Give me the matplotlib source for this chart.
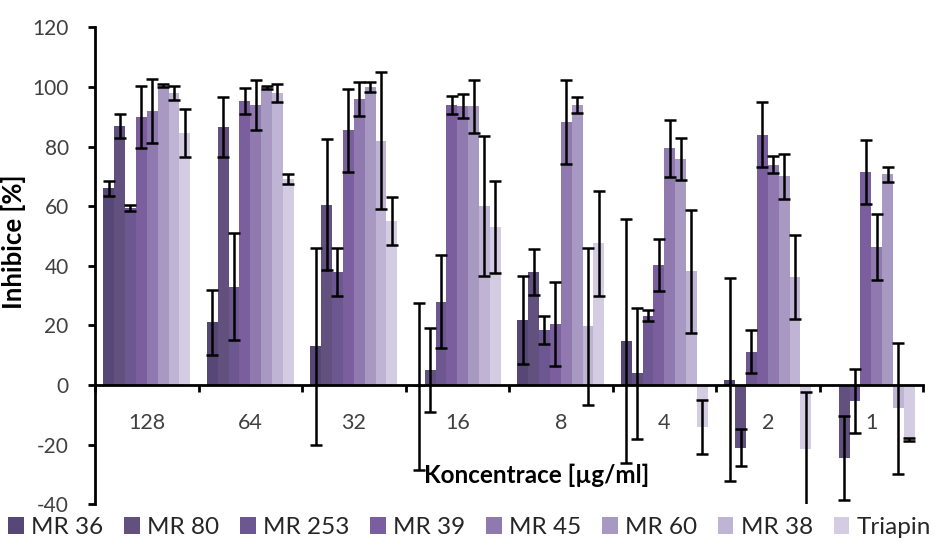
import matplotlib
matplotlib.use("Agg")
import matplotlib.pyplot as plt
import numpy as np

plt.rcParams["font.family"] = ["Lato", "DejaVu Sans"]
plt.rcParams["axes.unicode_minus"] = False

# koncentrace [ug/ml]
groups = ["128", "64", "32", "16", "8", "4", "2", "1"]
series = ["MR 36", "MR 80", "MR 253", "MR 39", "MR 45", "MR 60", "MR 38", "Triapin"]

mr36 = [66, 21, 13, -0.5, 21.8, 14.8, 1.8, np.nan]
mr36_err = [2.5, 11, 33, 28, 14.8, 41, 34, np.nan]
mr80 = [87, 86.5, 60.5, 5, 38, 4, -21, -24.5]
mr80_err = [4, 10, 22, 14, 7.7, 22, 6.2, 14]
mr253 = [59.5, 33, 38, 28, 18.5, 23.3, 11.2, -5.3]
mr253_err = [1, 18, 8, 15.5, 4.6, 1.8, 7.3, 10.7]
mr39 = [90, 95.3, 85.5, 94, 20.5, 40.3, 84, 71.6]
mr39_err = [10.5, 4.5, 14, 3, 14, 8.7, 11, 10.7]
mr45 = [92, 94, 96, 93.5, 88.3, 79.4, 74, 46.3]
mr45_err = [10.7, 8.4, 5.6, 4, 14, 9.5, 2.7, 11]
mr60 = [100.5, 100, 100, 93.5, 94, 75.8, 70, 70.7]
mr60_err = [0.5, 0.5, 1.8, 9, 2.8, 7, 7.5, 2.6]
mr38 = [98, 98, 82, 60, 19.7, 38.2, 36.2, -7.8]
mr38_err = [2.5, 3, 23, 23.5, 26.3, 20.6, 14, 22]
triapin = [84.5, 69, 55, 53, 47.5, -14, -21.5, -18.4]
triapin_err = [8, 1.7, 8, 15.5, 17.7, 9, 19, 0.5]

values = [mr36, mr80, mr253, mr39, mr45, mr60, mr38, triapin]
errors = [mr36_err, mr80_err, mr253_err, mr39_err, mr45_err, mr60_err, mr38_err, triapin_err]
colors = ["#574777", "#62507f", "#6c5791", "#7a5e9e", "#8f79ae", "#a899c2", "#bfb4d4", "#d4cce2"]

fig = plt.figure(figsize=(9.39, 5.49), dpi=100)
ax = fig.add_axes([0.1012, 0.0816, 0.8818, 0.8684])

x = np.arange(len(groups))
w = 0.105
for j, (vals, errs, col, name) in enumerate(zip(values, errors, colors, series)):
    pos = x - 0.42 + w * (j + 0.5)
    ax.bar(pos, vals, width=w, color=col, label=name, zorder=1)
    ax.errorbar(pos, vals, yerr=errs, fmt="none", ecolor="black",
                elinewidth=1.8, capsize=4.3, capthick=1.8, zorder=3)

ax.set_xlim(-0.5, len(groups) - 0.5)
ax.set_ylim(-40, 120)
ax.set_yticks(np.arange(-40, 121, 20))

# osa x prochazi nulou
ax.spines["bottom"].set_position(("data", 0))
ax.spines["top"].set_visible(False)
ax.spines["right"].set_visible(False)
ax.spines["left"].set_linewidth(2)
ax.spines["bottom"].set_linewidth(2)

ax.set_xticks(x)
ax.set_xticklabels(groups)
ax.set_xticks(np.arange(-0.5, len(groups)), minor=True)
ax.tick_params(axis="x", which="major", length=0, pad=20, labelsize=15.5, colors="#404040")
ax.tick_params(axis="x", which="minor", length=5, width=2, direction="out")
ax.tick_params(axis="y", length=5, width=2, pad=14, labelsize=15, labelcolor="#404040")

ax.set_ylabel("Inhibice [%]", fontsize=18.5, fontweight="bold")
ax.yaxis.set_label_coords(-0.083, 0.55)
fig.text(0.572, 0.135, "Koncentrace [µg/ml]", ha="center", va="center",
         fontsize=17.5, fontweight="bold")

fig.legend(loc="lower center", ncol=8, frameon=False, fontsize=17.5,
           handlelength=0.65, handleheight=0.65, handletextpad=0.3,
           columnspacing=0.85, bbox_to_anchor=(0.5, -0.02),
           labelcolor="#262626")

fig.savefig("out.png", dpi=100)
